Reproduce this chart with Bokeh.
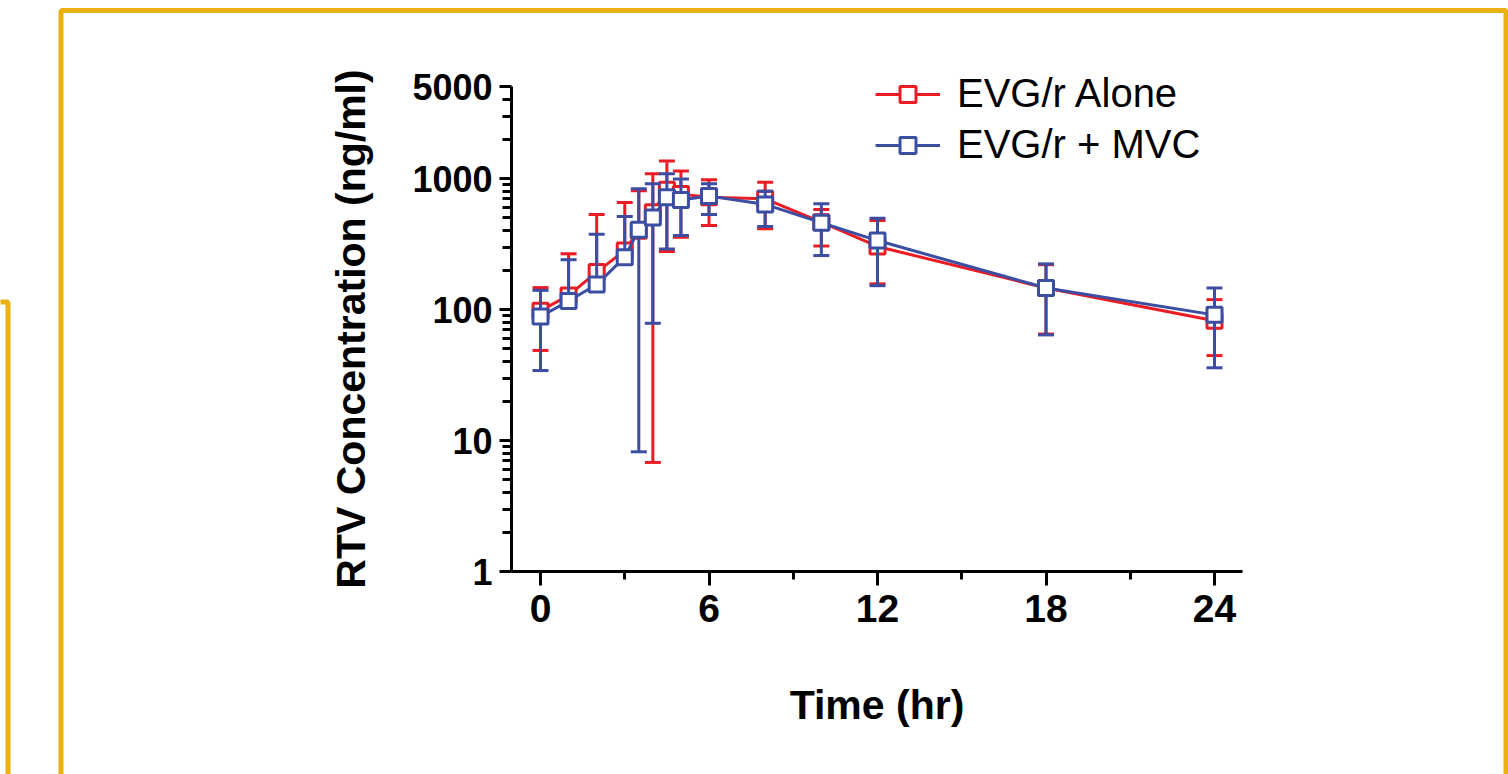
import numpy as np
from bokeh.plotting import figure
from bokeh.models import (FixedTicker, Legend, LegendItem, BoxAnnotation,
                          ColumnDataSource, Range1d)
from bokeh.embed import file_html
from bokeh.resources import INLINE

# ---------------- data ----------------
time_hr = [0, 1, 2, 3, 3.5, 4, 4.5, 5, 6, 8, 10, 12, 18, 24]

alone_mean = [98, 128, 193, 282, 400, 553, 820, 760, 720, 700, 464, 303, 146, 82]
alone_upper = [147, 266, 531, 655, 805, 1087, 1360, 1140, 978, 937, 580, 478, 220, 119]
alone_lower = [48.7, np.nan, np.nan, np.nan, np.nan, 6.8, 277, 356, 438, 413, 306, 157, 65, 44.5]

mvc_mean = [88.5, 116, 155, 251, 406, 505, 720, 685, 735, 634, 460, 336, 146, 91]
mvc_upper = [140, 240, 376, 512, 834, 911, 1087, 990, 911, 800, 641, 497, 223, 146]
mvc_lower = [34.2, np.nan, np.nan, np.nan, 8.2, 78.5, 290, 367, 531, 430, 258, 152, 64, 35.9]

series_names = ["EVG/r Alone", "EVG/r + MVC"]
series_colors = ["#EC1C24", "#3B4EA2"]

x_ticks = [0, 6, 12, 18, 24]
x_minor_ticks = [3, 9, 15, 21]
x_axis_bounds = (-1.03, 25.0)
y_ticks = [1, 10, 100, 1000, 5000]
y_tick_labels = ["1", "10", "100", "1000", "5000"]
y_minor_ticks = [2, 3, 4, 5, 6, 7, 8, 9,
                 20, 30, 40, 50, 60, 70, 80, 90,
                 200, 300, 400, 500, 600, 700, 800, 900,
                 2000, 3000, 4000]
y_axis_bounds = (1, 5000)

x_label = "Time (hr)"
y_label = "RTV Concentration (ng/ml)"

FONT = "Liberation Sans"
FRAME_YELLOW = "#EBB111"

W, H = 1508, 774

# ---------------- figure ----------------
# The frame fills the whole canvas; the axes are pinned at fixed data
# locations so that the slide frame and legend are not clipped.
p = figure(width=W, height=H,
           x_range=Range1d(-19.229, 34.469), y_range=Range1d(0.02821, 22849),
           y_axis_type="log",
           output_backend="svg", toolbar_location=None,
           min_border=0)
p.background_fill_color = "white"
p.border_fill_color = "white"
p.outline_line_color = None
p.xgrid.visible = False
p.ygrid.visible = False

for ax in (p.xaxis[0], p.yaxis[0]):
    ax.axis_line_width = 3
    ax.axis_line_color = "black"
    ax.major_tick_line_width = 3
    ax.minor_tick_line_width = 3
    ax.major_tick_line_color = "black"
    ax.minor_tick_line_color = "black"
    ax.major_tick_in = 0
    ax.minor_tick_in = 0
    ax.major_label_text_font = FONT
    ax.major_label_text_font_style = "bold"
    ax.major_label_text_color = "black"
    ax.axis_label_text_font = FONT
    ax.axis_label_text_font_style = "bold"
    ax.axis_label_text_color = "black"
    ax.axis_label_text_font_size = "41px"

xa = p.xaxis[0]
xa.fixed_location = y_axis_bounds[0]
xa.bounds = x_axis_bounds
xa.ticker = FixedTicker(ticks=x_ticks, minor_ticks=x_minor_ticks)
xa.major_tick_out = 14
xa.minor_tick_out = 8
xa.major_label_text_font_size = "39px"
xa.major_label_standoff = 9
xa.axis_label = x_label
xa.axis_label_standoff = 57

ya = p.yaxis[0]
ya.fixed_location = x_axis_bounds[0]
ya.bounds = y_axis_bounds
ya.ticker = FixedTicker(ticks=y_ticks, minor_ticks=y_minor_ticks)
ya.major_label_overrides = {t: l for t, l in zip(y_ticks, y_tick_labels)}
ya.major_tick_out = 12
ya.minor_tick_out = 9
ya.major_label_text_font_size = "36px"
ya.major_label_standoff = 7
ya.axis_label = y_label
ya.axis_label_standoff = 35

# ---------------- series ----------------
items = []
for name, color, mean, up, lo in zip(
        series_names, series_colors,
        [alone_mean, mvc_mean], [alone_upper, mvc_upper], [alone_lower, mvc_lower]):
    mean_a = np.array(mean, dtype=float)
    lo_a = np.array(lo, dtype=float)
    stem_lo = np.where(np.isnan(lo_a), mean_a, lo_a)
    src = ColumnDataSource(dict(x=time_hr, y=mean_a, up=up, lo=lo_a, stem_lo=stem_lo))
    p.segment(x0="x", x1="x", y0="stem_lo", y1="up", source=src,
              line_color=color, line_width=3)
    p.scatter(x="x", y="up", source=src, marker="dash", size=16,
              line_color=color, line_width=3)
    p.scatter(x="x", y="lo", source=src, marker="dash", size=16,
              line_color=color, line_width=3)
    lr = p.line(x="x", y="y", source=src, line_color=color, line_width=3)
    sr = p.scatter(x="x", y="y", source=src, marker="square", size=15,
                   line_color=color, line_width=3, fill_color="white")
    items.append(LegendItem(label=name, renderers=[lr, sr]))

legend = Legend(items=items, location=(875, 607))
legend.label_text_font = FONT
legend.label_text_font_size = "40px"
legend.label_text_color = "black"
legend.glyph_width = 65
legend.glyph_height = 40
legend.label_height = 40
legend.spacing = 6
legend.padding = 0
legend.margin = 0
legend.label_standoff = 17
legend.border_line_color = None
legend.background_fill_alpha = 0
p.add_layout(legend, "center")

# ---------------- decorative slide frames ----------------
p.add_layout(BoxAnnotation(left=60.5, right=1505.5, top=10, bottom=900,
                           left_units="canvas", right_units="canvas",
                           top_units="canvas", bottom_units="canvas",
                           fill_alpha=0, line_color=FRAME_YELLOW,
                           line_alpha=1.0, line_width=5))
p.add_layout(BoxAnnotation(left=-50, right=7.5, top=301.5, bottom=900,
                           left_units="canvas", right_units="canvas",
                           top_units="canvas", bottom_units="canvas",
                           fill_alpha=0, line_color=FRAME_YELLOW,
                           line_alpha=1.0, line_width=5))

open("out.html", "w").write(file_html(p, INLINE))
